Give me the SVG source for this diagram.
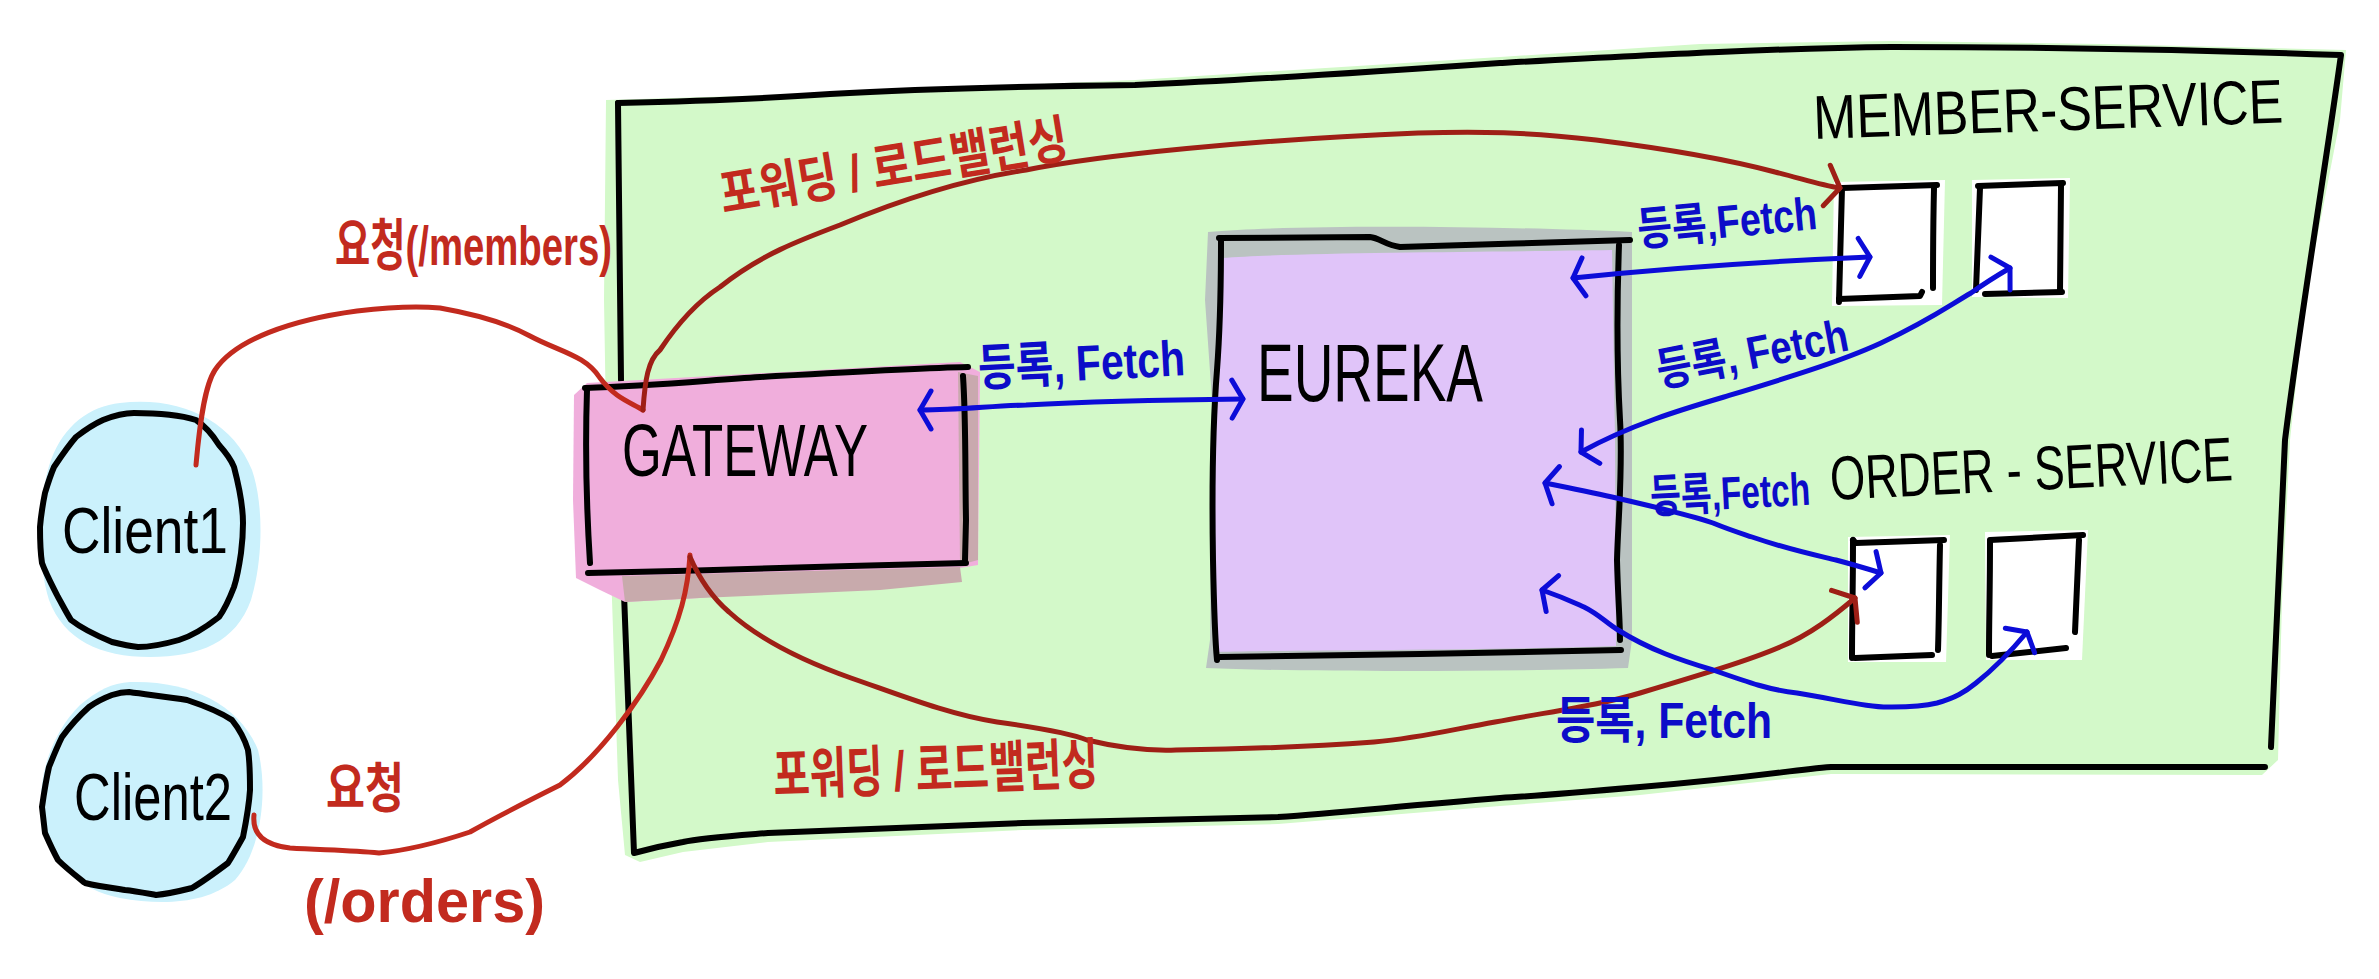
<svg xmlns="http://www.w3.org/2000/svg" width="2379" height="979" viewBox="0 0 2379 979">
<style>
.ol{fill:none;stroke:#000;stroke-width:6;stroke-linecap:round;stroke-linejoin:round}
.red{fill:none;stroke:#c22a1e;stroke-width:5;stroke-linecap:round;stroke-linejoin:round}
.dred{fill:none;stroke:#9e1f16;stroke-width:5;stroke-linecap:round;stroke-linejoin:round}
.blue{fill:none;stroke:#0c0cd8;stroke-width:5;stroke-linecap:round;stroke-linejoin:round}
.t{font-family:"Liberation Sans","Noto Sans CJK KR",sans-serif;}
.tk{fill:#000}
.tr{fill:#c22a1e;font-weight:bold}
.tb{fill:#0c0cc8;font-weight:bold}
</style>
<defs>
<marker id="ahb" markerUnits="userSpaceOnUse" viewBox="-30 -30 40 60" markerWidth="40" markerHeight="60" refX="0" refY="0" orient="auto-start-reverse" overflow="visible">
<path d="M-11,-19 L0,0 L-11,19" fill="none" stroke="#0c0cd8" stroke-width="5" stroke-linecap="round" stroke-linejoin="round"/>
</marker>
<marker id="ahr" markerUnits="userSpaceOnUse" viewBox="-30 -30 40 60" markerWidth="40" markerHeight="60" refX="0" refY="0" orient="auto" overflow="visible">
<path d="M-13,-21 L0,0 L-14,20" fill="none" stroke="#9e1f16" stroke-width="5" stroke-linecap="round" stroke-linejoin="round"/>
</marker>
</defs>
<rect width="2379" height="979" fill="#fff"/>

<g id="container">
<path d="M606,100 L771,95 L1135,80 L1500,57 L1700,44 L1892,41 L2100,44 L2346,50 L2340,120 L2305,300 L2290,440 L2282,600 L2278,760 L2262,775 L1831,774 L1640,795 L1500,806 L1278,824 L1023,830 L768,842 L683,852 L640,862 L625,855 L618,780 L612,600 L606,420 L604,300 Z" fill="#d3f9c9"/>
<path class="ol" d="M618,103 C700,101 760,99 830,94 C930,88 1050,86 1135,85 C1250,80 1400,70 1500,63 C1650,55 1780,48 1892,47 C2050,47 2200,50 2341,55 C2325,170 2300,320 2285,440 C2280,560 2275,680 2271,747"/>
<path class="ol" d="M2265,767 C2100,766 1950,766 1831,767 C1790,770 1760,777 1640,787 C1560,794 1520,797 1500,798 C1400,806 1340,813 1278,817 C1180,820 1100,821 1023,823 C900,828 830,830 768,833 C730,836 700,838 683,842 C660,846 645,850 634,853 C632,790 628,700 623,568"/>
<path class="ol" d="M621,380 C620,300 619,200 618,103"/>
</g>

<g id="gateway">
<path d="M574,395 L587,383 L960,362 L980,372 L978,565 L960,568 L700,598 L625,602 L600,590 L576,578 L573,500 Z" fill="#f0aedc"/>
<path d="M622,576 L960,567 L962,582 L880,590 L700,598 L625,602 Z" fill="#c8aaac"/>
<path d="M958,372 L978,376 L978,560 L960,565 Z" fill="#c9a9ae"/>
<path class="ol" d="M585,388 C650,386 700,381 760,377 C850,372 920,368 968,367"/>
<path class="ol" d="M963,376 C966,420 965,470 966,520 L965,560"/>
<path class="ol" d="M588,573 C680,571 750,569 850,566 L966,563"/>
<path class="ol" d="M587,390 C585,450 586,500 590,563"/>
<text class="t tk" x="622" y="476" font-size="74" textLength="246" lengthAdjust="spacingAndGlyphs">GATEWAY</text>
</g>

<g id="eureka">
<path d="M1208,232 C1300,224 1500,226 1632,232 L1632,640 L1628,668 C1500,672 1300,672 1206,668 L1210,640 L1212,400 L1205,300 Z" fill="#bac3c1"/>
<path d="M1222,258 C1300,252 1500,252 1612,250 L1615,440 L1616,646 C1500,650 1300,650 1216,652 L1214,440 L1218,300 Z" fill="#e0c4f9"/>
<path class="ol" d="M1219,238 L1370,237 C1380,238 1385,245 1400,247 C1470,245 1560,242 1630,240"/>
<path class="ol" d="M1221,241 C1221,290 1220,330 1217,370 C1213,420 1212,500 1213,560 C1214,610 1215,640 1217,660"/>
<path class="ol" d="M1619,245 C1617,300 1616,350 1620,420 C1623,470 1618,520 1617,560 C1618,600 1620,620 1620,640"/>
<path class="ol" d="M1220,657 C1300,656 1360,655 1420,654 C1500,652 1570,651 1621,650"/>
<text class="t tk" x="1257" y="401" font-size="82" textLength="226" lengthAdjust="spacingAndGlyphs">EUREKA</text>
</g>

<g id="member-service">
<text class="t tk" x="1814" y="139" font-size="62" textLength="470" lengthAdjust="spacingAndGlyphs" transform="rotate(-2 1814 139)">MEMBER-SERVICE</text>
<g id="member-1">
<path d="M1834,182 L1945,180 L1942,305 L1832,306 Z" fill="#fff"/>
<path class="ol" d="M1842,188 L1937,185"/>
<path class="ol" d="M1934,188 C1933,230 1933,260 1933,288"/>
<path class="ol" d="M1839,299 L1920,296 L1922,292"/>
<path class="ol" d="M1842,188 C1841,230 1840,270 1839,302"/>
</g>
<g id="member-2">
<path d="M1972,180 L2070,178 L2068,298 L1972,297 Z" fill="#fff"/>
<path class="ol" d="M1978,186 L2063,183"/>
<path class="ol" d="M2061,185 L2060,292"/>
<path class="ol" d="M1985,294 L2062,292"/>
<path class="ol" d="M1980,188 L1976,290"/>
</g>
</g>

<g id="order-service">
<text class="t tk" x="1831" y="500" font-size="62" textLength="403" lengthAdjust="spacingAndGlyphs" transform="rotate(-2.8 1831 500)">ORDER - SERVICE</text>
<g id="order-1">
<path d="M1848,537 L1950,535 L1946,662 L1848,662 Z" fill="#fff"/>
<path class="ol" d="M1853,540 L1856,543 L1944,540"/>
<path class="ol" d="M1940,545 C1939,590 1939,620 1938,650"/>
<path class="ol" d="M1855,658 L1932,655"/>
<path class="ol" d="M1853,540 C1853,590 1852,620 1852,658"/>
</g>
<g id="order-2">
<path d="M1985,532 L2088,530 L2082,660 L1986,660 Z" fill="#fff"/>
<path class="ol" d="M1990,540 L2083,535"/>
<path class="ol" d="M2079,540 C2077,580 2076,610 2075,632"/>
<path class="ol" d="M1992,656 L2066,648"/>
<path class="ol" d="M1990,542 C1990,590 1989,620 1989,655"/>
</g>
</g>

<g id="client1">
<path d="M120,403 C180,396 232,420 252,470 C264,505 263,560 251,600 C236,642 200,657 150,657 C100,657 64,640 49,600 C37,560 37,500 51,460 C64,425 90,406 120,403 Z" fill="#cbf1fc"/>
<path class="ol" d="M134,413 C160,413 180,415 196,420 C208,428 214,437 219,445 C228,455 232,462 234,467 C240,490 243,510 243,523 C243,535 242,545 241,553 C239,567 237,578 234,587 C229,600 224,610 219,617 C205,628 192,636 179,640 C165,644 150,647 138,647 C128,646 120,644 112,642 C95,635 80,627 71,620 C66,612 62,604 58,597 C52,585 46,574 42,563 C40,550 40,538 40,527 C41,515 43,503 45,493 C48,483 51,474 54,467 C62,455 69,445 76,437 C85,430 94,424 103,420 C113,416 124,413 134,413 Z"/>
<text class="t tk" x="62" y="553" font-size="64" textLength="166" lengthAdjust="spacingAndGlyphs">Client1</text>
</g>

<g id="client2">
<path d="M130,682 C190,680 240,705 258,750 C268,790 262,850 235,880 C205,905 160,905 120,898 C80,890 50,865 42,825 C36,780 50,735 80,705 C98,690 112,683 130,682 Z" fill="#cbf1fc"/>
<path class="ol" d="M129,692 C150,695 170,697 187,700 C205,706 220,712 232,720 C240,730 245,740 248,750 C250,763 250,777 250,790 C249,806 246,822 243,837 C238,846 233,855 228,863 C216,872 204,881 192,888 C180,891 168,894 156,895 C145,893 135,891 125,890 C112,888 98,886 85,883 C75,875 66,868 58,860 C53,851 49,842 45,833 C44,824 43,816 42,807 C44,793 46,780 49,767 C53,757 57,747 62,737 C70,726 79,716 89,707 C96,702 104,698 112,695 C118,693 123,692 129,692 Z"/>
<text class="t tk" x="74" y="820" font-size="66" textLength="158" lengthAdjust="spacingAndGlyphs">Client2</text>
</g>

<g id="connectors">
<path class="red" d="M196,465 C200,420 205,385 215,370 C235,340 290,320 357,311 C390,307 420,306 440,308 C480,315 510,325 530,336 C560,352 585,355 600,378 C615,398 630,402 643,410"/>
<path class="dred" marker-end="url(#ahr)" d="M643,410 C645,380 648,360 660,350 C680,320 700,300 720,287 C760,255 800,240 840,225 C900,200 960,180 1026,170 C1100,155 1250,140 1418,133 C1480,131 1525,132 1596,140 C1660,148 1730,160 1775,172 C1800,178 1820,185 1840,188"/>
<path class="red" d="M254,815 C252,835 265,845 290,848 C320,850 350,850 379,853 C410,850 440,842 470,832 C500,815 530,800 560,785 C600,755 640,700 661,660 C680,620 688,590 690,555"/>
<path class="dred" marker-end="url(#ahr)" d="M690,557 C700,580 715,600 729,612 C760,640 800,660 851,678 C900,695 950,715 997,722 C1040,728 1070,733 1087,740 C1120,748 1150,751 1176,750 C1250,749 1320,746 1374,742 C1420,738 1450,730 1495,722 C1560,710 1600,705 1640,693 C1700,675 1750,660 1780,647 C1810,635 1835,615 1855,598"/>
<path class="blue" marker-start="url(#ahb)" marker-end="url(#ahb)" d="M920,410 C960,410 990,406 1026,405 C1080,402 1154,400 1243,399"/>
<path class="blue" marker-start="url(#ahb)" marker-end="url(#ahb)" d="M1573,278 C1650,270 1750,262 1870,257"/>
<path class="blue" marker-start="url(#ahb)" marker-end="url(#ahb)" d="M1581,452 C1630,425 1680,410 1724,397 C1780,380 1840,362 1881,343 C1930,320 1950,305 1971,293 C1985,283 1998,275 2010,268"/>
<path class="blue" marker-start="url(#ahb)" marker-end="url(#ahb)" d="M1545,483 C1570,488 1590,492 1612,497 C1660,508 1690,515 1713,523 C1730,530 1740,533 1752,537 C1790,550 1815,555 1836,560 C1855,565 1868,569 1881,573"/>
<path class="blue" marker-start="url(#ahb)" marker-end="url(#ahb)" d="M1542,590 C1565,598 1575,603 1584,607 C1600,615 1605,622 1618,630 C1650,650 1680,660 1713,670 C1750,683 1770,690 1797,693 C1840,700 1870,708 1892,707 C1910,707 1925,706 1937,703 C1955,698 1965,692 1976,683 C1995,668 2012,650 2027,632"/>
</g>

<g id="labels">
<text class="t tr" x="335" y="265" font-size="56" textLength="277" lengthAdjust="spacingAndGlyphs">요청(/members)</text>
<text class="t tr" x="326" y="808" font-size="54" textLength="78" lengthAdjust="spacingAndGlyphs">요청</text>
<text class="t tr" x="304" y="922" font-size="62" textLength="241" lengthAdjust="spacingAndGlyphs">(/orders)</text>
<text class="t tr" x="723" y="213" font-size="52" textLength="352" lengthAdjust="spacingAndGlyphs" transform="rotate(-9.3 723 213)">포워딩 / 로드밸런싱</text>
<text class="t tr" x="774" y="795" font-size="56" textLength="325" lengthAdjust="spacingAndGlyphs" transform="rotate(-2 774 795)">포워딩 / 로드밸런싱</text>
<text class="t tb" x="979" y="386" font-size="50" textLength="207" lengthAdjust="spacingAndGlyphs" transform="rotate(-3 979 386)">등록, Fetch</text>
<text class="t tb" x="1639" y="246" font-size="46" textLength="180" lengthAdjust="spacingAndGlyphs" transform="rotate(-5.5 1639 246)">등록,Fetch</text>
<text class="t tb" x="1660" y="387" font-size="46" textLength="194" lengthAdjust="spacingAndGlyphs" transform="rotate(-11 1660 387)">등록, Fetch</text>
<text class="t tb" x="1651" y="513" font-size="46" textLength="160" lengthAdjust="spacingAndGlyphs" transform="rotate(-3 1651 513)">등록,Fetch</text>
<text class="t tb" x="1556" y="738" font-size="50" textLength="216" lengthAdjust="spacingAndGlyphs">등록, Fetch</text>
</g>
</svg>
